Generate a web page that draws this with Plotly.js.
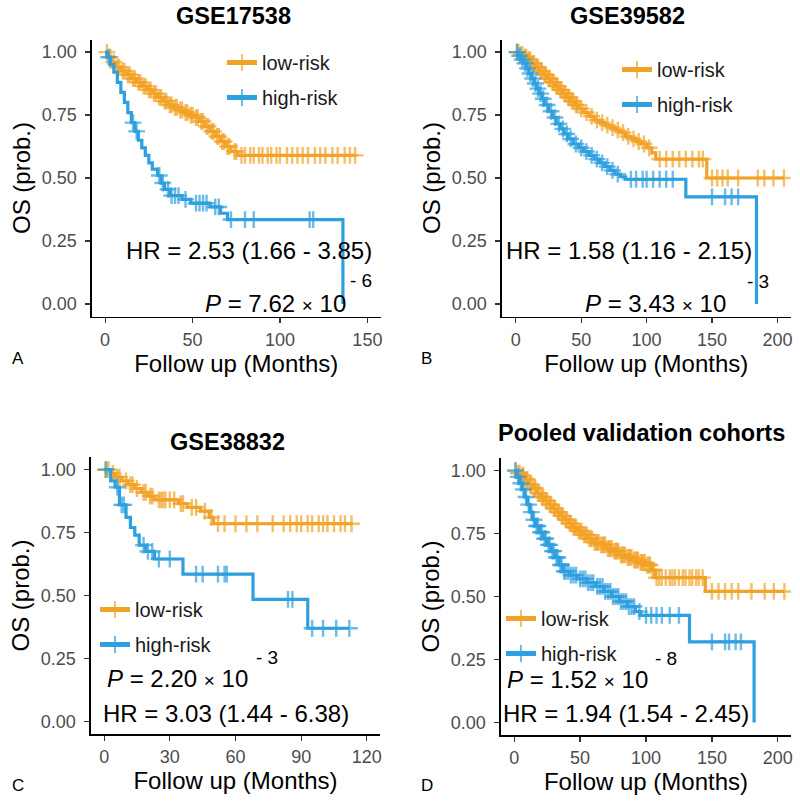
<!DOCTYPE html>
<html>
<head>
<meta charset="utf-8">
<script src="https://cdn.plot.ly/plotly-3.0.1.min.js"></script>
<style>html,body{margin:0;padding:0;background:#fff;}#chart{width:800px;height:801px;}</style>
</head>
<body>
<div id="chart"></div>
<script>
// ---------- data ----------
const groups = ["low-risk", "high-risk"];
const panelTitles = ["GSE17538", "GSE39582", "GSE38832", "Pooled validation cohorts"];
const panelLetters = ["A", "B", "C", "D"];

// Panel A: GSE17538
const A_low_eventT  = [2, 4, 6, 9, 12, 15, 18, 21, 24, 27, 30, 33, 36, 39, 42, 45, 48, 51, 54, 57, 60, 63, 66, 69, 72, 76];
const A_low_eventS  = [0.98, 0.96, 0.94, 0.925, 0.91, 0.895, 0.88, 0.865, 0.85, 0.835, 0.82, 0.805, 0.79, 0.78, 0.77, 0.76, 0.75, 0.74, 0.725, 0.705, 0.685, 0.665, 0.645, 0.625, 0.605, 0.59];
const A_low_censT   = [1, 3, 5, 7, 8, 10, 11, 13, 14, 16, 17, 19, 20, 22, 23, 25, 26, 28, 29, 31, 32, 34, 35, 37, 38, 40, 41, 43, 44, 46, 47, 49, 50, 52, 53, 55, 56, 58, 59, 61, 62, 64, 65, 67, 68, 70, 71, 74, 75, 78, 80, 83, 85, 88, 90, 93, 95, 98, 100, 104, 107, 110, 113, 116, 120, 123, 126, 130, 133, 137, 140, 143];
const A_high_eventT = [1, 3, 5, 7, 9, 11, 13, 15, 17, 19, 21, 23, 25, 27, 30, 32, 34, 37, 44, 49, 60, 66, 70, 136];
const A_high_eventS = [0.98, 0.95, 0.92, 0.88, 0.84, 0.80, 0.76, 0.72, 0.685, 0.65, 0.62, 0.59, 0.56, 0.535, 0.51, 0.48, 0.455, 0.43, 0.415, 0.40, 0.385, 0.36, 0.335, 0];
const A_high_censT  = [2, 16, 18, 31, 33, 36, 38, 40, 42, 46, 52, 54, 56, 58, 63, 65, 72, 80, 85, 117, 119];

// Panel B: GSE39582
const B_low_eventT  = [3, 6, 9, 12, 15, 18, 21, 24, 27, 30, 33, 36, 39, 42, 45, 48, 52, 56, 60, 64, 68, 72, 76, 80, 84, 88, 92, 96, 100, 104, 107, 146];
const B_low_eventS  = [0.99, 0.98, 0.97, 0.955, 0.94, 0.925, 0.91, 0.895, 0.88, 0.865, 0.85, 0.835, 0.82, 0.805, 0.79, 0.775, 0.76, 0.745, 0.73, 0.72, 0.71, 0.70, 0.69, 0.68, 0.665, 0.655, 0.645, 0.635, 0.62, 0.60, 0.575, 0.50];
const B_low_censT   = [1, 2, 4, 5, 7, 8, 10, 11, 13, 14, 16, 17, 19, 20, 22, 23, 25, 26, 28, 29, 31, 32, 34, 35, 37, 38, 40, 41, 43, 44, 46, 47, 50, 54, 58, 62, 66, 70, 74, 78, 82, 86, 90, 94, 98, 102, 110, 115, 120, 125, 130, 135, 140, 143, 150, 154, 158, 162, 170, 185, 190, 197, 205];
const B_high_eventT = [2, 4, 6, 8, 10, 12, 14, 16, 18, 20, 22, 25, 28, 31, 34, 37, 40, 44, 48, 52, 56, 60, 64, 68, 72, 76, 80, 84, 130, 184];
const B_high_eventS = [0.985, 0.97, 0.955, 0.935, 0.915, 0.895, 0.875, 0.855, 0.835, 0.815, 0.79, 0.765, 0.74, 0.715, 0.695, 0.675, 0.655, 0.635, 0.62, 0.605, 0.59, 0.575, 0.56, 0.545, 0.53, 0.515, 0.505, 0.495, 0.425, 0];
const B_high_censT  = [1, 3, 5, 7, 9, 11, 13, 15, 17, 19, 21, 24, 27, 30, 33, 36, 39, 42, 46, 50, 54, 58, 62, 66, 70, 74, 78, 88, 92, 97, 100, 105, 110, 115, 120, 150, 160, 165, 170];

// Panel C: GSE38832
const C_low_eventT  = [3, 5, 8, 11, 14, 17, 20, 23, 34, 38, 44, 48, 50];
const C_low_eventS  = [0.985, 0.97, 0.955, 0.94, 0.925, 0.91, 0.895, 0.88, 0.865, 0.85, 0.835, 0.81, 0.785];
const C_low_censT   = [0.5, 2, 4, 6, 7, 10, 12, 13, 15, 18, 19, 21, 22, 25, 26, 27, 28, 30, 32, 35, 36, 40, 42, 46, 49, 52, 55, 60, 65, 70, 77, 82, 85, 88, 90, 93, 95, 98, 100, 102, 105, 108, 110, 113];
const C_high_eventT = [3, 5, 7, 10, 12, 14, 16, 19, 23, 36, 68, 93];
const C_high_eventS = [0.955, 0.93, 0.86, 0.81, 0.77, 0.74, 0.70, 0.675, 0.645, 0.585, 0.485, 0.37];
const C_high_censT  = [1, 6, 8, 9, 18, 20, 22, 25, 30, 42, 45, 52, 55, 56, 84, 86, 95, 100, 106, 112];

// Panel D: pooled validation cohorts
const D_low_eventT  = [2, 5, 8, 11, 14, 17, 20, 23, 26, 29, 32, 35, 38, 41, 44, 48, 52, 56, 60, 65, 70, 75, 80, 85, 90, 95, 100, 104, 107, 145];
const D_low_eventS  = [0.99, 0.98, 0.965, 0.945, 0.93, 0.91, 0.895, 0.88, 0.865, 0.85, 0.835, 0.82, 0.805, 0.79, 0.775, 0.76, 0.745, 0.73, 0.715, 0.705, 0.69, 0.68, 0.665, 0.655, 0.645, 0.635, 0.625, 0.605, 0.575, 0.52];
const D_low_censT   = [1, 3, 4, 6, 7, 9, 10, 12, 13, 15, 16, 18, 19, 21, 22, 24, 25, 27, 28, 30, 31, 33, 34, 36, 37, 39, 40, 42, 43, 45, 46, 47, 49, 50, 51, 53, 54, 55, 57, 58, 59, 61, 62, 63, 64, 66, 67, 68, 69, 71, 72, 73, 74, 76, 77, 78, 79, 81, 82, 83, 84, 86, 87, 88, 89, 91, 92, 93, 94, 96, 97, 98, 99, 101, 102, 103, 105, 106, 108, 110, 112, 115, 118, 120, 122, 125, 128, 130, 133, 135, 138, 140, 143, 150, 155, 160, 165, 170, 180, 190, 197, 205];
const D_high_eventT = [2, 4, 6, 8, 10, 12, 14, 16, 19, 22, 25, 28, 31, 34, 37, 42, 48, 55, 62, 68, 74, 80, 86, 92, 96, 133, 182];
const D_high_eventS = [0.975, 0.95, 0.925, 0.895, 0.865, 0.835, 0.805, 0.78, 0.755, 0.73, 0.705, 0.68, 0.655, 0.625, 0.60, 0.585, 0.57, 0.555, 0.54, 0.52, 0.50, 0.48, 0.46, 0.44, 0.425, 0.32, 0];
const D_high_censT  = [1, 3, 5, 7, 9, 11, 13, 15, 17, 18, 20, 21, 23, 24, 26, 27, 29, 30, 32, 33, 35, 36, 38, 39, 41, 43, 45, 47, 50, 52, 54, 56, 58, 60, 63, 65, 67, 69, 71, 73, 75, 77, 79, 81, 83, 85, 87, 89, 91, 95, 100, 104, 108, 112, 118, 125, 150, 160, 163, 168, 172];

const xTickStep = [50, 50, 30, 50];
const hrText = ["HR = 2.53 (1.66 - 3.85)", "HR = 1.58 (1.16 - 2.15)", "HR = 3.03 (1.44 - 6.38)", "HR = 1.94 (1.54 - 2.45)"];
const pMantissa = ["7.62", "3.43", "2.20", "1.52"];
const pExponent = ["- 6", "- 3", "- 3", "- 8"];

// ---------- styling ----------
const colors = ["#F2A327", "#2E9FDF"];
const W = 800, H = 801;
const px = v => v / W;
const py = v => 1 - v / H;

// plot-area pixel boxes [left, right, top, bottom]
const boxes = [
  [92, 380.5, 39.5, 316.5],
  [502, 790.5, 39.5, 316.5],
  [91, 380, 457, 734],
  [501, 791, 458, 735]
];
const xRanges = [[-7.5, 157.5], [-10.5, 210], [-6, 126], [-10, 210]];

function kmTrace(eventT, eventS, censT, gi, pi) {
  const pts = [];
  eventT.forEach((t, i) => pts.push({t: t, s: eventS[i], c: false}));
  censT.forEach(t => pts.push({t: t, s: null, c: true}));
  pts.sort((a, b) => a.t - b.t || (a.c - b.c));
  const x = [0], y = [1], size = [0];
  let cur = 1;
  pts.forEach(p => {
    if (!p.c) cur = p.s;
    x.push(p.t); y.push(cur); size.push(p.c ? 12 : 0);
  });
  const ax = pi === 0 ? "" : String(pi + 1);
  return {
    type: "scatter", mode: "lines+markers", x: x, y: y,
    xaxis: "x" + ax, yaxis: "y" + ax,
    name: groups[gi], legend: "legend" + ax, legendgroup: "g" + pi + gi,
    line: {shape: "hv", color: colors[gi], width: 3.2},
    marker: {symbol: "cross-thin", size: size, color: colors[gi], line: {color: colors[gi], width: 2.4}},
    hoverinfo: "x+y"
  };
}

const panelData = [
  [[A_low_eventT, A_low_eventS, A_low_censT], [A_high_eventT, A_high_eventS, A_high_censT]],
  [[B_low_eventT, B_low_eventS, B_low_censT], [B_high_eventT, B_high_eventS, B_high_censT]],
  [[C_low_eventT, C_low_eventS, C_low_censT], [C_high_eventT, C_high_eventS, C_high_censT]],
  [[D_low_eventT, D_low_eventS, D_low_censT], [D_high_eventT, D_high_eventS, D_high_censT]]
];

const traces = [];
panelData.forEach((pd, pi) => pd.forEach((g, gi) => traces.push(kmTrace(g[0], g[1], g[2], gi, pi))));

const layout = {
  width: W, height: H,
  margin: {l: 0, r: 0, t: 0, b: 0},
  paper_bgcolor: "#fff", plot_bgcolor: "#fff",
  font: {family: "Liberation Sans, Arial, sans-serif", color: "#000"},
  annotations: [], showlegend: true
};

const titlePos = [[233, 16], [627, 16], [228, 442], [641, 433]];
const letterPos = [[18, 358], [427, 358], [18, 785], [427, 785]];
const legendPos = [[222, 60], [617, 67], [95, 607], [501, 616]];
const hrPos = [[124, 250], [504, 250], [101, 713], [501, 713]];
const pPos = [[204, 303], [584, 303], [106, 678], [506, 679]];
const expPos = [[349, 280], [746, 281], [255, 657], [654, 658]];

boxes.forEach((b, i) => {
  const ax = i === 0 ? "" : String(i + 1);
  layout["xaxis" + ax] = {
    domain: [px(b[0]), px(b[1])], anchor: "y" + ax, range: xRanges[i],
    tickmode: "linear", tick0: 0, dtick: xTickStep[i],
    showgrid: false, zeroline: false, showline: true, linecolor: "#000", linewidth: 1.6,
    ticks: "outside", ticklen: 5, tickwidth: 1.2, tickcolor: "#333",
    tickfont: {size: 18, color: "#4D4D4D"}, ticklabelstandoff: 1,
    title: {text: "Follow up (Months)", font: {size: 24, color: "#000"}, standoff: 4}
  };
  layout["yaxis" + ax] = {
    domain: [py(b[3]), py(b[2])], anchor: "x" + ax, range: [-0.05, 1.05],
    tickvals: [0, 0.25, 0.5, 0.75, 1], tickformat: ".2f",
    showgrid: false, zeroline: false, showline: true, linecolor: "#000", linewidth: 1.6,
    ticks: "outside", ticklen: 5, tickwidth: 1.2, tickcolor: "#333",
    tickfont: {size: 18, color: "#4D4D4D"}, ticklabelstandoff: 5,
    title: {text: "OS (prob.)", font: {size: 24, color: "#000"}, standoff: 4}
  };
  layout["legend" + ax] = {
    x: px(legendPos[i][0]), y: py(legendPos[i][1] - 17), xanchor: "left", yanchor: "top",
    bgcolor: "rgba(0,0,0,0)", font: {size: 20, color: "#1a1a1a"},
    itemsizing: "constant", tracegroupgap: 6, itemwidth: 30
  };
  layout.annotations.push(
    {text: "<b>" + panelTitles[i] + "</b>", x: px(titlePos[i][0]), y: py(titlePos[i][1]), xref: "paper", yref: "paper",
     xanchor: "center", yanchor: "middle", showarrow: false, font: {size: 23.5, color: "#000"}},
    {text: panelLetters[i], x: px(letterPos[i][0]), y: py(letterPos[i][1]), xref: "paper", yref: "paper",
     xanchor: "center", yanchor: "middle", showarrow: false, font: {size: 17, color: "#000"}},
    {text: hrText[i], x: px(hrPos[i][0]), y: py(hrPos[i][1]), xref: "paper", yref: "paper",
     xanchor: "left", yanchor: "middle", showarrow: false, font: {size: 24, color: "#000"}},
    {text: "<i>P</i> = " + pMantissa[i] + " <span style='font-size:19px'>\u00d7</span> 10", x: px(pPos[i][0]), y: py(pPos[i][1]), xref: "paper", yref: "paper",
     xanchor: "left", yanchor: "middle", showarrow: false, font: {size: 24, color: "#000"}, borderpad: 0},
    {text: pExponent[i], x: px(expPos[i][0]), y: py(expPos[i][1]), xref: "paper", yref: "paper",
     xanchor: "left", yanchor: "middle", showarrow: false, font: {size: 19, color: "#000"}, borderpad: 0}
  );
});

Plotly.newPlot("chart", traces, layout, {displayModeBar: false, staticPlot: true});
</script>
</body>
</html>
